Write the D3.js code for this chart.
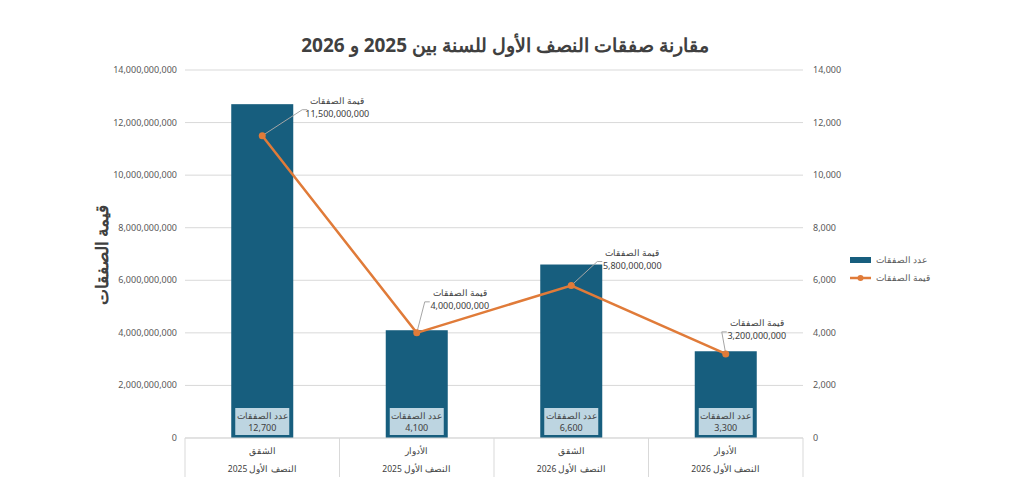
<!DOCTYPE html>
<html><head><meta charset="utf-8">
<script src="https://cdn.jsdelivr.net/npm/d3@7"></script>
<style>body{margin:0;background:#fff;font-family:"Noto Sans","Open Sans",sans-serif;}</style>
</head><body><svg id="c" width="1024" height="491"></svg>
<script>
var categories = ["الشقق", "الأدوار", "الشقق", "الأدوار"];
var periods = ["النصف الأول 2025", "النصف الأول 2025", "النصف الأول  2026", "النصف الأول 2026"];
var counts = [12700, 4100, 6600, 3300];
var values = [11500000000, 4000000000, 5800000000, 3200000000];
var leftTicks = d3.range(0, 14000000001, 2000000000);
var rightTicks = d3.range(0, 14001, 2000);
// label offsets from the point (dx, dy)
var labelOff = [[75, -30], [43, -35], [61, -28], [31, -26]];

var svg = d3.select("#c");
var x0 = 185, x1 = 803, yTop = 70, yBot = 438;
var x = d3.scaleBand().domain(d3.range(4)).range([x0, x1]).paddingInner(0).paddingOuter(0);
var yL = d3.scaleLinear().domain([0, 14000000000]).range([yBot, yTop]);
var yR = d3.scaleLinear().domain([0, 14000]).range([yBot, yTop]);
var fmt = d3.format(",");
var blue = "#175e7e", orange = "#e07b39";

svg.append("text").attr("x", 505).attr("y", 52).attr("text-anchor", "middle")
  .attr("font-size", 19).attr("font-weight", "bold").attr("fill", "#404040")
  .text("مقارنة صفقات النصف الأول للسنة بين 2025 و 2026");

svg.selectAll(".g").data(leftTicks).enter().append("line")
  .attr("x1", x0).attr("x2", x1).attr("y1", yL).attr("y2", yL).attr("stroke", "#d9d9d9");
svg.selectAll(".tl").data(leftTicks).enter().append("text")
  .attr("x", 177).attr("y", function(d){return yL(d) + 3;}).attr("text-anchor", "end")
  .attr("font-size", 9).attr("fill", "#595959").text(fmt);
svg.selectAll(".tr").data(rightTicks).enter().append("text")
  .attr("x", 813).attr("y", function(d){return yR(d) + 3;})
  .attr("font-size", 9).attr("fill", "#595959").text(fmt);

svg.append("text").attr("transform", "translate(108,255) rotate(-90)").attr("text-anchor", "middle")
  .attr("font-size", 17).attr("font-weight", "bold").attr("fill", "#404040").text("قيمة الصفقات");

var bw = 62;
svg.selectAll(".bar").data(counts).enter().append("rect")
  .attr("x", function(d, i){return x(i) + x.bandwidth()/2 - bw/2;}).attr("width", bw)
  .attr("y", yR).attr("height", function(d){return yBot - yR(d);}).attr("fill", blue);

counts.forEach(function(d, i){
  var cx = x(i) + x.bandwidth()/2;
  svg.append("rect").attr("x", cx - 27).attr("y", 408).attr("width", 54).attr("height", 27)
    .attr("fill", "#bdd5e1");
  svg.append("text").attr("x", cx).attr("y", 419).attr("text-anchor", "middle").attr("font-size", 8.5)
    .attr("fill", "#404040").text("عدد الصفقات");
  svg.append("text").attr("x", cx).attr("y", 431).attr("text-anchor", "middle").attr("font-size", 9)
    .attr("fill", "#404040").text(fmt(d));
});

// category table
var tb = svg.append("g").attr("stroke", "#d9d9d9").attr("fill", "none");
tb.append("line").attr("x1", x0).attr("x2", x1).attr("y1", yBot).attr("y2", yBot);
d3.range(5).forEach(function(i){
  var xx = i < 4 ? x(i) : x1;
  tb.append("line").attr("x1", xx).attr("x2", xx).attr("y1", yBot).attr("y2", 477);
});
categories.forEach(function(c, i){
  var cx = x(i) + x.bandwidth()/2;
  svg.append("text").attr("x", cx).attr("y", 454).attr("text-anchor", "middle").attr("font-size", 8.5)
    .attr("fill", "#404040").text(c);
  svg.append("text").attr("x", cx).attr("y", 472).attr("text-anchor", "middle").attr("font-size", 8.5)
    .attr("fill", "#404040").text(periods[i]);
});

var line = d3.line().x(function(d, i){return x(i) + x.bandwidth()/2;}).y(function(d){return yL(d);});
svg.append("path").datum(values).attr("d", line).attr("fill", "none").attr("stroke", orange).attr("stroke-width", 2.5);
values.forEach(function(v, i){
  var px = x(i) + x.bandwidth()/2, py = yL(v);
  var o = labelOff[i];
  svg.append("line").attr("x1", px).attr("y1", py).attr("x2", px + o[0] - 35).attr("y2", py + o[1] + 4)
    .attr("stroke", "#a6a6a6");
  svg.append("line").attr("x1", px + o[0] - 35).attr("y1", py + o[1] + 4).attr("x2", px + o[0] - 30).attr("y2", py + o[1] + 4)
    .attr("stroke", "#a6a6a6");
  svg.append("text").attr("x", px + o[0]).attr("y", py + o[1] - 2).attr("text-anchor", "middle").attr("font-size", 9)
    .attr("fill", "#404040").text("قيمة الصفقات");
  svg.append("text").attr("x", px + o[0]).attr("y", py + o[1] + 11).attr("text-anchor", "middle").attr("font-size", 9)
    .attr("fill", "#404040").text(fmt(v));
  svg.append("circle").attr("cx", px).attr("cy", py).attr("r", 3.5).attr("fill", orange);
});

// legend
svg.append("rect").attr("x", 850).attr("y", 257).attr("width", 21).attr("height", 6).attr("fill", blue);
svg.append("text").attr("x", 876).attr("y", 263).attr("font-size", 8.5).attr("fill", "#595959").text("عدد الصفقات");
svg.append("line").attr("x1", 850).attr("x2", 871).attr("y1", 278).attr("y2", 278).attr("stroke", orange).attr("stroke-width", 2.5);
svg.append("circle").attr("cx", 860.5).attr("cy", 278).attr("r", 3).attr("fill", orange);
svg.append("text").attr("x", 876).attr("y", 281).attr("font-size", 8.5).attr("fill", "#595959").text("قيمة الصفقات");
</script></body></html>
